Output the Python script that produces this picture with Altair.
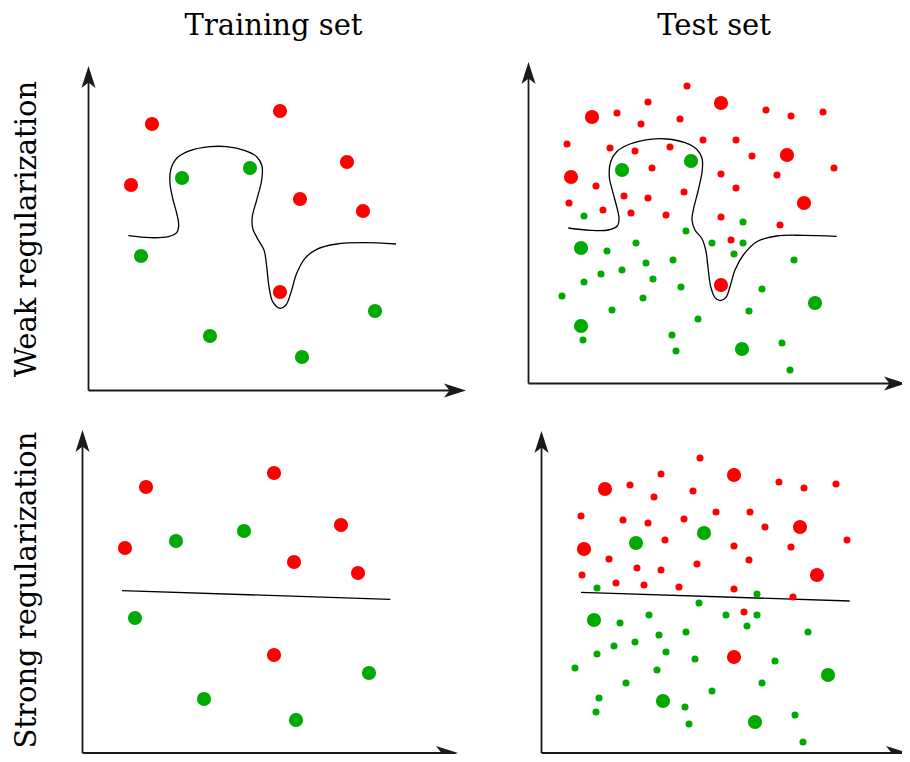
import altair as alt
import pandas as pd

# ---------------- data (page pixel coordinates) ----------------
# Training set, weak regularization
train_weak_red = [(152, 124), (280, 111), (131, 185), (347, 162), (300, 199), (363, 211), (280, 292)]
train_weak_green = [(182, 178), (250, 168), (141, 256), (375, 311), (210, 336), (302, 357)]

# Test set, weak regularization
test_weak_red_big = [(592, 117), (571, 177), (721, 103), (721, 285), (787, 155), (804, 203)]
test_weak_red_small = [(687, 86), (648, 102), (617, 113), (641, 124), (680, 119), (567, 144), (610, 148),
                       (635, 151), (670, 147), (703, 140), (652, 168), (596, 186), (624, 196), (648, 198),
                       (684, 192), (569, 203), (603, 210), (631, 213), (666, 215), (721, 174), (721, 217),
                       (766, 110), (791, 116), (823, 112), (736, 140), (752, 156), (777, 175), (834, 168),
                       (736, 188), (780, 225), (731, 240)]
test_weak_green_big = [(622, 170), (691, 161), (581, 248), (581, 326), (815, 303), (742, 349)]
test_weak_green_small = [(584, 216), (686, 231), (636, 243), (712, 243), (607, 251), (646, 263), (673, 260),
                         (622, 270), (601, 274), (584, 282), (653, 279), (681, 287), (562, 296), (643, 298),
                         (612, 310), (698, 319), (583, 340), (672, 335), (676, 351), (743, 222), (743, 243),
                         (734, 254), (794, 260), (762, 289), (749, 311), (782, 343), (790, 370)]

# Training set, strong regularization
train_strong_red = [(146, 487), (274, 473), (125, 548), (341, 525), (294, 562), (358, 573), (274, 655)]
train_strong_green = [(176, 541), (244, 531), (135, 618), (369, 673), (204, 699), (296, 720)]

# Test set, strong regularization
test_strong_red_big = [(605, 489), (584, 549), (734, 475), (734, 657), (800, 527), (817, 575)]
test_strong_red_small = [(700, 458), (661, 474), (630, 485), (654, 497), (693, 491), (581, 516), (623, 520),
                         (648, 523), (684, 519), (716, 512), (665, 540), (609, 559), (637, 568), (661, 570),
                         (697, 564), (582, 575), (616, 583), (644, 585), (679, 587), (734, 546), (734, 589),
                         (779, 482), (804, 488), (836, 484), (750, 512), (765, 527), (791, 547), (847, 540),
                         (749, 560), (793, 597), (744, 612)]
test_strong_green_big = [(636, 543), (704, 533), (594, 620), (663, 701), (828, 675), (755, 722)]
test_strong_green_small = [(597, 588), (699, 603), (649, 615), (726, 615), (620, 623), (659, 635), (686, 632),
                           (635, 642), (614, 646), (597, 654), (666, 652), (695, 659), (575, 668), (657, 670),
                           (626, 683), (712, 691), (599, 698), (596, 712), (685, 707), (689, 724), (757, 594),
                           (757, 615), (747, 626), (808, 632), (775, 661), (762, 683), (795, 715), (803, 742)]

# Decision boundaries
curve_train_weak = [(128.3, 235.7), (150, 237.7), (168.3, 236.7), (176.7, 232.7), (178.7, 225), (176.7, 213.3),
                    (172.7, 198.3), (170, 183.3), (170.7, 170), (176.7, 158.3), (190, 150.7), (210, 146.7),
                    (226.7, 146.7), (245, 150.7), (256.7, 156.7), (262, 166), (261.7, 180), (256.7, 200),
                    (252.3, 216.7), (252.7, 228.3), (258.3, 240), (264, 250), (266.7, 266.7), (269, 286.7),
                    (272.7, 301.7), (280, 308.3), (286, 305), (290.7, 293.3), (296.7, 273.3), (305, 258.3),
                    (316.7, 249.3), (336.7, 244), (363.3, 242.7), (396, 244)]
curve_test_weak = [(568.3, 228), (590, 230.3), (608.3, 230), (617.3, 226), (619, 218.3), (616.7, 206.7),
                   (612.7, 191.7), (609.3, 176.7), (610.7, 161.7), (616.7, 151.7), (630, 144), (650, 139.3),
                   (666.7, 139), (685, 142.7), (696.7, 149.3), (702, 158.3), (702.3, 170), (698.3, 190),
                   (693.3, 210), (692, 220), (695, 230), (701.7, 238.3), (705.7, 250), (708.3, 270),
                   (710.7, 286.7), (715, 297.7), (720, 300.7), (726, 297.3), (730, 286.7), (735, 270),
                   (743.3, 255), (756.7, 241.7), (776.7, 236), (803.3, 235.3), (836.7, 236.3)]
line_train_strong = [(122, 590.7), (390.3, 599.3)]
line_test_strong = [(581, 592.3), (849.7, 601)]

# Arrow axes of the four panels: origin, top tip, right tip
axis_origin_x = [88.5, 528.5, 82.5, 541.5]
axis_origin_y = [390.5, 383.5, 753.0, 753.0]
axis_top_y = [66, 62, 430, 431]
axis_right_x = [466, 906, 458, 908]

column_titles = ["Training set", "Test set"]
row_titles = ["Weak regularization", "Strong regularization"]

# ---------------- tables ----------------
pts = []
def add(points, cls, kind):
    for x, y in points:
        pts.append({"x": x, "y": y, "cls": cls, "kind": kind})

add(train_weak_red, "red", "big")
add(train_weak_green, "green", "big")
add(test_weak_red_big, "red", "big")
add(test_weak_red_small, "red", "small")
add(test_weak_green_big, "green", "big")
add(test_weak_green_small, "green", "small")
add(train_strong_red, "red", "big")
add(train_strong_green, "green", "big")
add(test_strong_red_big, "red", "big")
add(test_strong_red_small, "red", "small")
add(test_strong_green_big, "green", "big")
add(test_strong_green_small, "green", "small")
points_df = pd.DataFrame(pts)

crv = []
for name, c in [("tw", curve_train_weak), ("sw", curve_test_weak),
                ("ts", line_train_strong), ("ss", line_test_strong)]:
    for i, (x, y) in enumerate(c):
        crv.append({"x": x, "y": y, "curve": name, "order": i})
curves_df = pd.DataFrame(crv)

axes_rows = []
for ox, oy, ty, rx in zip(axis_origin_x, axis_origin_y, axis_top_y, axis_right_x):
    axes_rows.append({"x": ox, "y": oy, "x2": ox, "y2": ty + 6, "dir": "up", "tx": ox, "ty": ty})
    axes_rows.append({"x": ox, "y": oy, "x2": rx - 6, "y2": oy, "dir": "right", "tx": rx, "ty": oy})
axes_df = pd.DataFrame(axes_rows)

# ---------------- encodings ----------------
XS = alt.Scale(domain=[8, 902])
YS = alt.Scale(domain=[8, 754], reverse=True)
AX = "#1a1a1a"

axis_lines = alt.Chart(axes_df).mark_rule(color=AX, strokeWidth=1.8).encode(
    x=alt.X("x:Q", scale=XS, axis=None), y=alt.Y("y:Q", scale=YS, axis=None),
    x2="x2:Q", y2="y2:Q")

up_path = "M0,0 L0.64,2 L0,1.5 L-0.64,2 Z"
right_path = "M0,0 L-2,-0.64 L-1.5,0 L-2,0.64 Z"
heads_up = alt.Chart(axes_df).transform_filter(alt.datum.dir == "up").mark_point(
    shape=up_path, filled=True, size=484, color=AX, opacity=1, strokeWidth=0).encode(
    x=alt.X("tx:Q", scale=XS, axis=None), y=alt.Y("ty:Q", scale=YS, axis=None))
heads_right = alt.Chart(axes_df).transform_filter(alt.datum.dir == "right").mark_point(
    shape=right_path, filled=True, size=484, color=AX, opacity=1, strokeWidth=0).encode(
    x=alt.X("tx:Q", scale=XS, axis=None), y=alt.Y("ty:Q", scale=YS, axis=None))

curves = alt.Chart(curves_df).mark_line(color="black", strokeWidth=1.3, interpolate="catmull-rom").encode(
    x=alt.X("x:Q", scale=XS, axis=None), y=alt.Y("y:Q", scale=YS, axis=None),
    detail="curve:N", order="order:Q")

dots = alt.Chart(points_df).mark_circle(opacity=1).encode(
    x=alt.X("x:Q", scale=XS, axis=None), y=alt.Y("y:Q", scale=YS, axis=None),
    color=alt.Color("cls:N", scale=alt.Scale(domain=["red", "green"], range=["#ff0000", "#00aa00"]), legend=None),
    size=alt.Size("kind:O", scale=alt.Scale(domain=["big", "small"], range=[200, 50]), legend=None))

FONT = "DejaVu Serif"
FS = 29
t1 = alt.Chart().mark_text(font=FONT, fontSize=FS, align="center", baseline="alphabetic", color="black").encode(
    x=alt.value(265.5), y=alt.value(27), text=alt.value(column_titles[0]))
t2 = alt.Chart().mark_text(font=FONT, fontSize=FS, align="center", baseline="alphabetic", color="black").encode(
    x=alt.value(706), y=alt.value(27), text=alt.value(column_titles[1]))
r1 = alt.Chart().mark_text(font=FONT, fontSize=FS, align="center", baseline="alphabetic", angle=270,
                           color="black").encode(x=alt.value(28), y=alt.value(221), text=alt.value(row_titles[0]))
r2 = alt.Chart().mark_text(font=FONT, fontSize=FS, align="center", baseline="alphabetic", angle=270,
                           color="black").encode(x=alt.value(28), y=alt.value(582), text=alt.value(row_titles[1]))

chart = alt.layer(axis_lines, heads_up, heads_right, curves, dots, t1, t2, r1, r2).properties(
    width=894, height=746, padding=0,
    autosize=alt.AutoSizeParams(type="none")
).configure_view(stroke=None)

chart.save("out.html", embed_options={"renderer": "svg", "actions": False})
